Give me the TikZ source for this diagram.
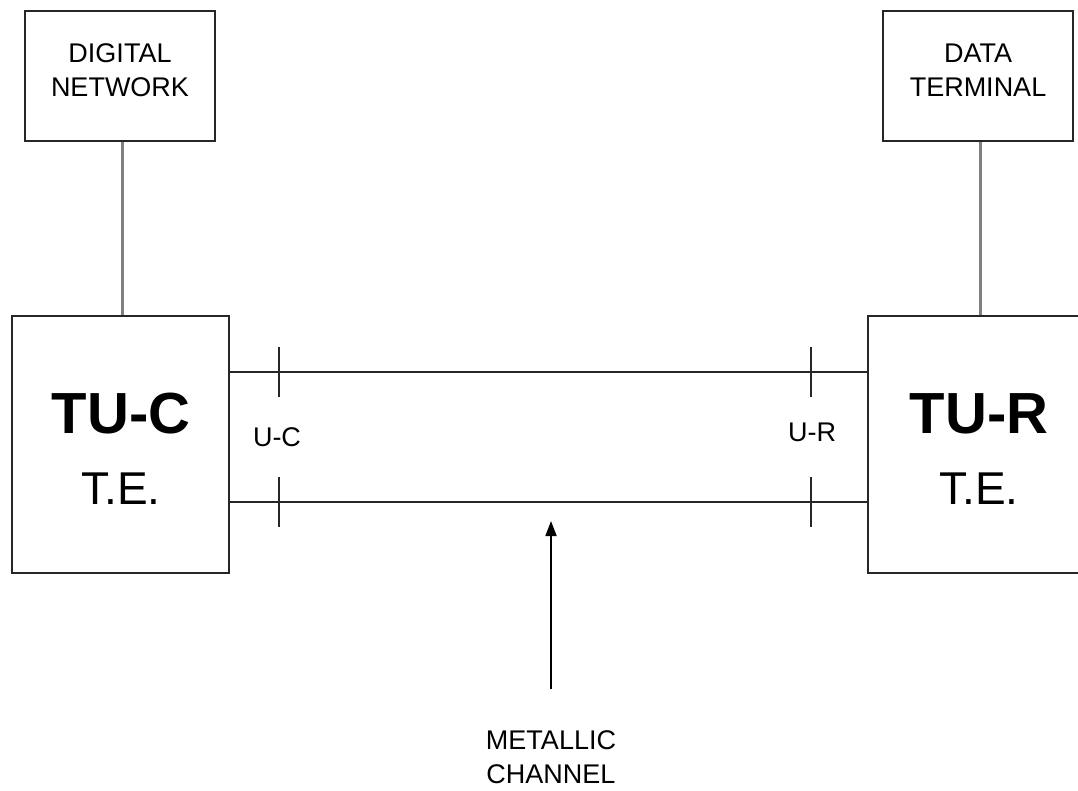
\documentclass[tikz,border=0pt]{standalone}
\usepackage{fontspec}
\setmainfont{Liberation Sans}
\usetikzlibrary{arrows.meta,positioning,calc}

\begin{document}
\begin{tikzpicture}[x=1pt,y=-1pt,>=Latex,
    box/.style={draw=black!85,line width=1.6pt,inner sep=0pt,align=center},
    small/.style={font=\fontsize{27}{34}\selectfont,align=center,inner sep=0pt},
    link/.style={draw=black!50,line width=3pt},
    wire/.style={draw=black!85,line width=1.6pt},
    tick/.style={draw=black!85,line width=1.6pt},
    arr/.style={->,draw=black,line width=1.8pt,>={Triangle[width=11pt,length=15pt]}}]
    \useasboundingbox (0,0) rectangle (1078,791);

    % Upper boxes
    \node[box,small,minimum width=190pt,minimum height=130pt,text depth=12pt] (dn) at (120,76) {DIGITAL\\NETWORK};
    \node[box,small,minimum width=190pt,minimum height=130pt,text depth=12pt] (dt) at (978,76) {DATA\\TERMINAL};

    % Transceiver units
    \node[box,minimum width=217pt,minimum height=257pt] (tuc) at (120.5,444.5) {};
    \node[box,minimum width=222pt,minimum height=257pt] (tur) at (979,444.5) {};
    \node[anchor=base,inner sep=0pt,font=\fontsize{58}{60}\selectfont\bfseries] (tuctop) at (121,433.5) {TU-C};
    \node[anchor=base,inner sep=0pt,font=\fontsize{46}{50}\selectfont] (tucbot) at (121,504.5) {T.E.};
    \node[anchor=base,inner sep=0pt,font=\fontsize{58}{60}\selectfont\bfseries] (turtop) at (979,433.5) {TU-R};
    \node[anchor=base,inner sep=0pt,font=\fontsize{46}{50}\selectfont] (turbot) at (979,504.5) {T.E.};

    \draw[link] ([xshift=2pt]dn.south) -- ([xshift=2pt]tuc.north -| dn.south);
    \draw[link] ([xshift=2pt]dt.south) -- ([xshift=2pt]tur.north -| dt.south);

    % Metallic pair
    \coordinate (ua) at (279,372);
    \coordinate (ub) at (279,502);
    \coordinate (ra) at (811,372);
    \coordinate (rb) at (811,502);
    \draw[wire] (tuc.east |- ua) -- (tur.west |- ua);
    \draw[wire] (tuc.east |- ub) -- (tur.west |- ub);
    \foreach \p in {ua,ub,ra,rb} {
        \draw[tick] ([yshift=25pt]\p) -- ([yshift=-25pt]\p);
    }
    \node[small] (uc) at (277,437) {U-C};
    \node[small] (ur) at (812,432) {U-R};

    % Pointer to the line
    \coordinate (tip) at (551,521);
    \node[small] (mc) at (551,757) {METALLIC\\CHANNEL};
    \draw[arr] ([yshift=41pt]mc.north) -- (tip);
\end{tikzpicture}
\end{document}
